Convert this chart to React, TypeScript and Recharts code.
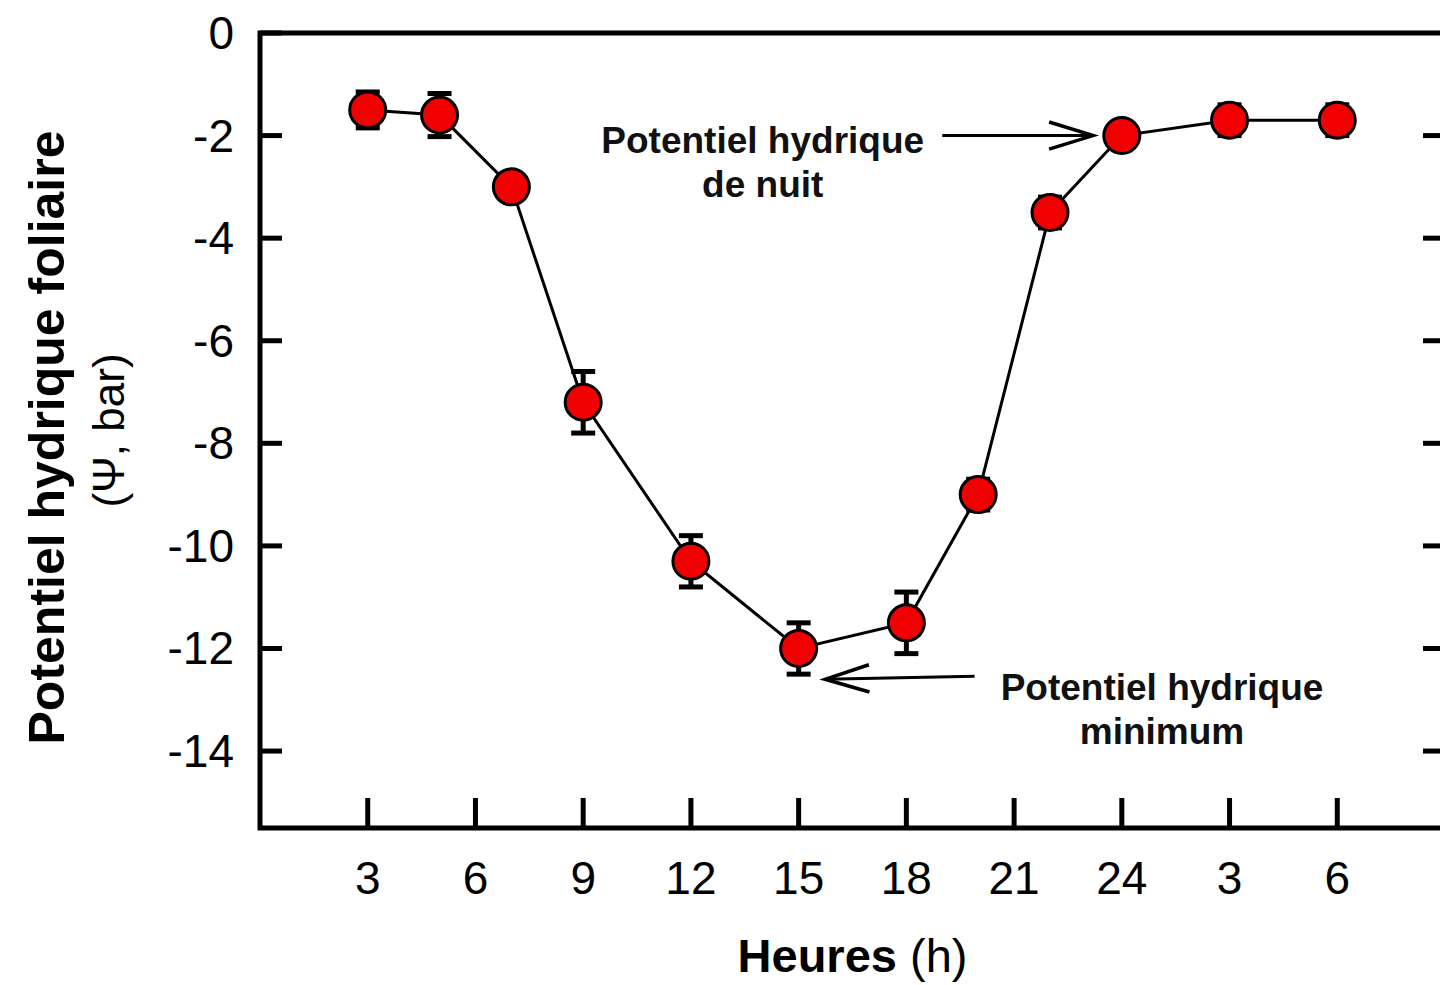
import React from "react";
import {
  ComposedChart,
  Line,
  XAxis,
  YAxis,
  ErrorBar,
  ReferenceArea,
  ReferenceLine,
  ReferenceDot,
} from "recharts";

// hours of sampling (27 and 30 = 3h and 6h of the next day)
const hours = [3, 5, 7, 9, 12, 15, 18, 20, 22, 24, 27, 30];
const psi = [-1.5, -1.6, -3.0, -7.2, -10.3, -12.0, -11.5, -9.0, -3.5, -2.0, -1.7, -1.7];
const psiErr = [0.35, 0.42, 0.2, 0.6, 0.5, 0.5, 0.6, 0.3, 0.3, 0.2, 0.3, 0.3];

const xTicks = [3, 6, 9, 12, 15, 18, 21, 24, 27, 30];
const xTickLabels = ["3", "6", "9", "12", "15", "18", "21", "24", "3", "6"];
const yTicks = [0, -2, -4, -6, -8, -10, -12, -14];

const nightNote = ["Potentiel hydrique", "de nuit"];
const minNote = ["Potentiel hydrique", "minimum"];

const data = hours.map((h, i) => ({ h, psi: psi[i], err: psiErr[i] }));

const font = "'Liberation Sans', Arial, sans-serif";

function XTick({ x, y, payload }: any) {
  const label = xTickLabels[xTicks.indexOf(payload.value)];
  return (
    <g>
      <line x1={x} y1={y} x2={x} y2={y - 30} stroke="#000" strokeWidth={5} />
      <text x={x} y={y + 66} textAnchor="middle" fontSize={46} fontFamily={font} fill="#000">
        {label}
      </text>
    </g>
  );
}

function YTick({ x, y, payload }: any) {
  return (
    <g>
      <line x1={x} y1={y} x2={x + 22} y2={y} stroke="#000" strokeWidth={5} />
      <text
        x={x - 26}
        y={y}
        textAnchor="end"
        dominantBaseline="central"
        fontSize={46}
        fontFamily={font}
        fill="#000"
      >
        {payload.value}
      </text>
    </g>
  );
}

function RightTick({ x, y, payload }: any) {
  if (payload.value === 0) return <g />;
  return <line x1={x} y1={y} x2={x - 22} y2={y} stroke="#000" strokeWidth={5} />;
}

function XTitle({ viewBox }: any) {
  const cx = viewBox.x + viewBox.width / 2;
  return (
    <text x={cx} y={viewBox.y + 144} textAnchor="middle" fontSize={47} fontFamily={font} fill="#000">
      <tspan fontWeight="bold">Heures</tspan>
      <tspan> (h)</tspan>
    </text>
  );
}

function YTitle({ viewBox }: any) {
  const cy = viewBox.y + viewBox.height / 2;
  const left = viewBox.x + viewBox.width;
  const x1 = left - 213;
  const x2 = left - 152;
  return (
    <g fontFamily={font} fill="#000">
      <text
        x={x1}
        y={cy + 7}
        transform={`rotate(-90 ${x1} ${cy + 7})`}
        textAnchor="middle"
        dominantBaseline="central"
        fontSize={50}
        fontWeight="bold"
      >
        Potentiel hydrique foliaire
      </text>
      <text
        x={x2}
        y={cy}
        transform={`rotate(-90 ${x2} ${cy})`}
        textAnchor="middle"
        dominantBaseline="central"
        fontSize={44}
      >
        (Ψ, bar)
      </text>
    </g>
  );
}

function Arrow({ x1, y1, x2, y2 }: any) {
  const ang = Math.atan2(y2 - y1, x2 - x1);
  const len = 46;
  const spread = 0.3;
  const ax = x2 - len * Math.cos(ang - spread);
  const ay = y2 - len * Math.sin(ang - spread);
  const bx = x2 - len * Math.cos(ang + spread);
  const by = y2 - len * Math.sin(ang + spread);
  return (
    <g stroke="#000" strokeWidth={3} fill="none">
      <line x1={x1} y1={y1} x2={x2} y2={y2} />
      <polyline points={`${ax},${ay} ${x2},${y2} ${bx},${by}`} strokeWidth={3.5} />
    </g>
  );
}

function Note({ cx, cy, lines }: any) {
  return (
    <text x={cx} y={cy} textAnchor="middle" fontSize={37} fontWeight="bold" fontFamily={font} fill="#111">
      {lines.map((l: string, i: number) => (
        <tspan key={i} x={cx} dy={i ? 44 : 0}>
          {l}
        </tspan>
      ))}
    </text>
  );
}

export default function App() {
  return (
    <div
      style={{
        position: "absolute",
        left: 0,
        top: 0,
        width: 1440,
        height: 985,
        overflow: "hidden",
        background: "#fff",
        fontFamily: font,
      }}
    >
      <ComposedChart
        width={1460}
        height={985}
        data={data}
        margin={{ top: 33, right: 14, bottom: 0, left: 220 }}
      >
        <ReferenceArea
          x1={0}
          x2={33}
          y1={-15.5}
          y2={0}
          fill="none"
          stroke="#000"
          strokeWidth={5}
          ifOverflow="visible"
        />
        <XAxis
          dataKey="h"
          type="number"
          domain={[0, 33]}
          ticks={xTicks}
          interval={0}
          allowDataOverflow
          height={157}
          axisLine={false}
          tickLine={false}
          tickSize={0}
          tickMargin={0}
          tick={<XTick />}
          label={<XTitle />}
        />
        <YAxis
          type="number"
          domain={[-15.5, 0]}
          ticks={yTicks}
          interval={0}
          allowDataOverflow
          width={40}
          axisLine={false}
          tickLine={false}
          tickSize={0}
          tickMargin={0}
          tick={<YTick />}
          label={<YTitle />}
        />
        <YAxis
          yAxisId="right"
          orientation="right"
          type="number"
          domain={[-15.5, 0]}
          ticks={yTicks}
          interval={0}
          allowDataOverflow
          width={1}
          axisLine={false}
          tickLine={false}
          tickSize={0}
          tickMargin={0}
          tick={<RightTick />}
        />
        <ReferenceLine
          segment={[
            { x: 19.0, y: -2.0 },
            { x: 23.2, y: -2.0 },
          ]}
          ifOverflow="visible"
          shape={(p: any) => <Arrow {...p} />}
        />
        <ReferenceLine
          segment={[
            { x: 19.9, y: -12.54 },
            { x: 15.74, y: -12.6 },
          ]}
          ifOverflow="visible"
          shape={(p: any) => <Arrow {...p} />}
        />
        <ReferenceDot
          x={14.0}
          y={-2.34}
          ifOverflow="visible"
          shape={(p: any) => <Note cx={p.cx} cy={p.cy} lines={nightNote} />}
        />
        <ReferenceDot
          x={25.12}
          y={-13.0}
          ifOverflow="visible"
          shape={(p: any) => <Note cx={p.cx} cy={p.cy} lines={minNote} />}
        />
        <Line
          dataKey="psi"
          type="linear"
          stroke="#000"
          strokeWidth={3}
          dot={{ r: 18, fill: "#f00000", stroke: "#000", strokeWidth: 3 }}
          activeDot={false}
          isAnimationActive={false}
        >
          <ErrorBar dataKey="err" width={12} strokeWidth={5} stroke="#000" direction="y" />
        </Line>
      </ComposedChart>
    </div>
  );
}
